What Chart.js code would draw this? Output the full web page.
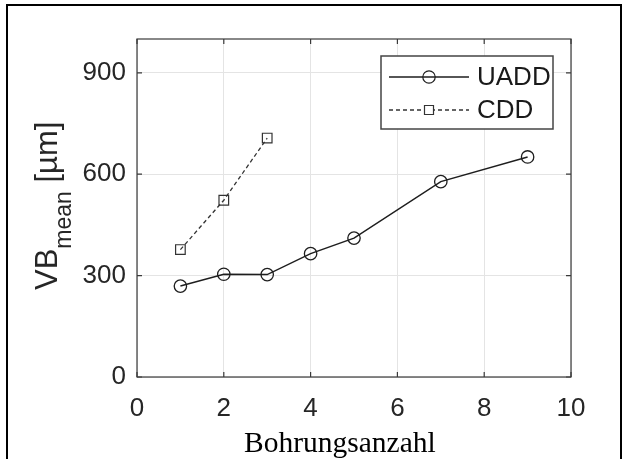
<!DOCTYPE html>
<html>
<head>
<meta charset="utf-8">
<script src="https://cdn.jsdelivr.net/npm/chart.js@4.4.1/dist/chart.umd.min.js"></script>
<style>
  html, body { margin: 0; padding: 0; background: #fff; }
  #wrap { width: 623px; height: 459px; position: relative; }
</style>
</head>
<body>
<div id="wrap"><canvas id="c" width="623" height="459"></canvas></div>
<script>
// ---- data ----
const uaddX = [1, 2, 3, 4, 5, 7, 9];
const uaddY = [269, 304, 303, 365, 411, 578, 651];
const cddX = [1, 2, 3];
const cddY = [377, 523, 707];
const xTicks = [0, 2, 4, 6, 8, 10];
const yTicks = [0, 300, 600, 900];
const seriesNames = ['UADD', 'CDD'];
const xTitle = 'Bohrungsanzahl';
const yTitleMain = 'VB';
const yTitleSub = 'mean';
const yTitleUnit = ' [µm]';

const toPts = (xs, ys) => xs.map((x, i) => ({ x: x, y: ys[i] }));

const AXIS = '#3a3a3a';
const LINE = '#1e1e1e';
const SANS = '"Liberation Sans", Arial, sans-serif';
const SERIF = '"Liberation Serif", "Times New Roman", serif';

const decorPlugin = {
  id: 'decor',
  afterDraw(chart) {
    const ctx = chart.ctx;
    const a = chart.chartArea;
    const xs = chart.scales.x, ys = chart.scales.y;
    ctx.save();
    // box
    ctx.strokeStyle = AXIS;
    ctx.lineWidth = 1.2;
    ctx.strokeRect(a.left, a.top, a.right - a.left, a.bottom - a.top);
    // inner ticks on all sides
    const tl = 5;
    ctx.beginPath();
    xTicks.forEach(v => {
      const px = xs.getPixelForValue(v);
      ctx.moveTo(px, a.bottom); ctx.lineTo(px, a.bottom - tl);
      ctx.moveTo(px, a.top); ctx.lineTo(px, a.top + tl);
    });
    yTicks.forEach(v => {
      const py = ys.getPixelForValue(v);
      ctx.moveTo(a.left, py); ctx.lineTo(a.left + tl, py);
      ctx.moveTo(a.right, py); ctx.lineTo(a.right - tl, py);
    });
    ctx.stroke();

    // legend
    const lx = 381, ly = 56, lw = 172, lh = 73;
    ctx.fillStyle = '#fff';
    ctx.fillRect(lx, ly, lw, lh);
    ctx.strokeStyle = '#444';
    ctx.lineWidth = 1.5;
    ctx.strokeRect(lx, ly, lw, lh);
    const rows = [77, 110];
    const ds = chart.data.datasets;
    rows.forEach((ry, i) => {
      const d = ds[i];
      ctx.strokeStyle = d.borderColor;
      ctx.lineWidth = d.borderWidth;
      ctx.setLineDash(d.borderDash || []);
      ctx.beginPath();
      ctx.moveTo(389, ry); ctx.lineTo(469, ry);
      ctx.stroke();
      ctx.setLineDash([]);
      ctx.lineWidth = 1.2;
      ctx.beginPath();
      if (d.pointStyle === 'rect') {
        ctx.fillStyle = '#fff';
        ctx.rect(429 - 4.5, ry - 4.5, 9, 9);
        ctx.fill();
        ctx.stroke();
      } else {
        ctx.arc(429, ry, 6.2, 0, Math.PI * 2);
        ctx.stroke();
      }
      ctx.fillStyle = '#1a1a1a';
      ctx.font = '26px ' + SANS;
      ctx.textBaseline = 'middle';
      ctx.textAlign = 'left';
      ctx.fillText(seriesNames[i], 477, ry + 1);
    });

    // x title
    ctx.fillStyle = '#000';
    ctx.font = '29.5px ' + SERIF;
    ctx.textAlign = 'left';
    ctx.textBaseline = 'alphabetic';
    ctx.fillText(xTitle, 244, 452);

    // y title (rotated)
    ctx.save();
    ctx.translate(57, 290);
    ctx.rotate(-Math.PI / 2);
    ctx.fillStyle = '#262626';
    ctx.textAlign = 'left';
    ctx.font = '31px ' + SANS;
    ctx.fillText(yTitleMain, 0, 0);
    let w = ctx.measureText(yTitleMain).width;
    ctx.font = '23px ' + SANS;
    ctx.fillText(yTitleSub, w, 14);
    w += ctx.measureText(yTitleSub).width;
    ctx.font = '31px ' + SANS;
    ctx.fillText(yTitleUnit, w, 0);
    ctx.restore();

    // outer frame
    ctx.strokeStyle = '#000';
    ctx.lineWidth = 2;
    ctx.beginPath();
    ctx.moveTo(7, 460); ctx.lineTo(7, 5); ctx.lineTo(621, 5); ctx.lineTo(621, 460);
    ctx.stroke();
    ctx.restore();
  }
};

new Chart(document.getElementById('c'), {
  type: 'scatter',
  data: {
    datasets: [
      {
        label: seriesNames[0],
        data: toPts(uaddX, uaddY),
        showLine: true,
        borderColor: LINE,
        borderWidth: 1.5,
        pointStyle: 'circle',
        pointRadius: 6.2,
        pointBorderWidth: 1.3,
        pointBorderColor: LINE,
        pointBackgroundColor: 'rgba(0,0,0,0)',
        tension: 0
      },
      {
        label: seriesNames[1],
        data: toPts(cddX, cddY),
        showLine: true,
        borderColor: '#333',
        borderWidth: 1.3,
        borderDash: [4, 3],
        pointStyle: 'rect',
        pointRadius: 6.8,
        pointBorderWidth: 1.2,
        pointBorderColor: '#333',
        pointBackgroundColor: 'rgba(0,0,0,0)',
        tension: 0
      }
    ]
  },
  options: {
    responsive: false,
    animation: false,
    devicePixelRatio: 1,
    layout: { padding: { left: 0, top: 39, right: 52, bottom: 0 } },
    plugins: { legend: { display: false }, tooltip: { enabled: false } },
    scales: {
      x: {
        type: 'linear', min: 0, max: 10,
        afterFit(s) { s.height = 82; },
        afterBuildTicks(s) { s.ticks = xTicks.map(v => ({ value: v })); },
        grid: { color: '#e4e4e4', lineWidth: 1, drawTicks: false },
        border: { display: false },
        ticks: { padding: 16, color: '#262626', font: { family: SANS, size: 26 } }
      },
      y: {
        type: 'linear', min: 0, max: 1000,
        afterFit(s) { s.width = 137; },
        afterBuildTicks(s) { s.ticks = yTicks.map(v => ({ value: v })); },
        grid: { color: '#e4e4e4', lineWidth: 1, drawTicks: false },
        border: { display: false },
        ticks: { padding: 11, color: '#262626', font: { family: SANS, size: 26 } }
      }
    }
  },
  plugins: [decorPlugin]
});
</script>
</body>
</html>
